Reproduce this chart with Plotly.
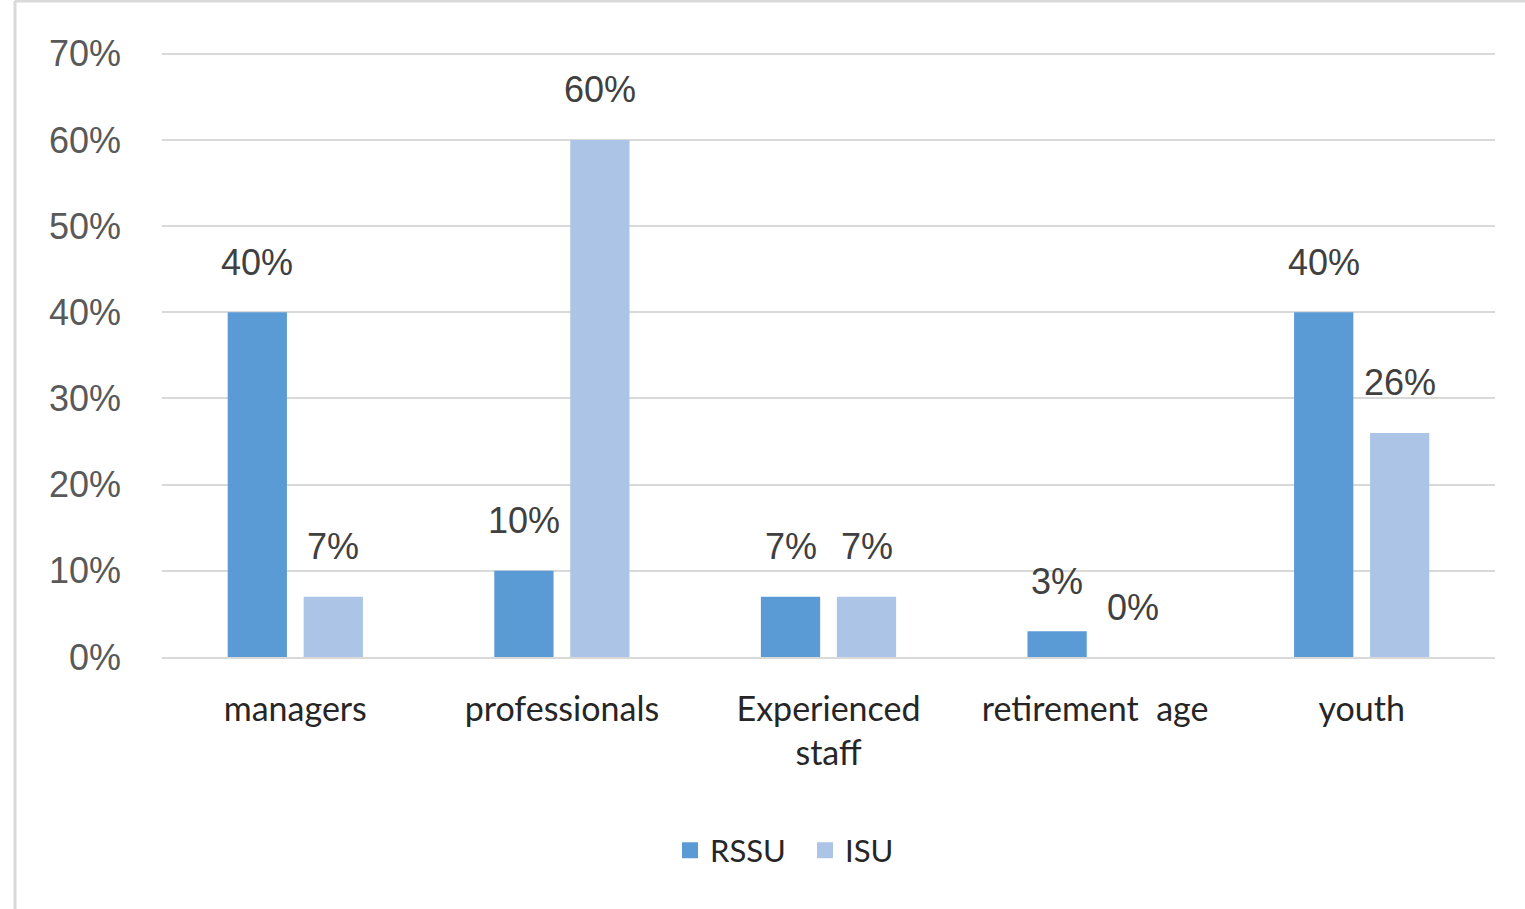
import plotly.graph_objects as go

categories = ["managers", "professionals", "Experienced<br>staff", "retirement  age", "youth"]
rssu = [0.40, 0.10, 0.07, 0.03, 0.40]
isu = [0.07, 0.60, 0.07, 0.00, 0.26]
series_names = ["RSSU", "ISU"]
colors = ["#5B9BD5", "#ACC5E6"]

W, H = 1525, 909
L, R, T, B = 162, 30, 52, 252

fig = go.Figure()
for name, vals, col in zip(series_names, [rssu, isu], colors):
    fig.add_trace(go.Bar(x=categories, y=vals, name=name, marker_color=col,
                         marker_line_width=0, showlegend=False))
    # bigger square legend keys than the default bar swatch
    fig.add_trace(go.Scatter(x=[None], y=[None], mode="markers", name=name,
                             marker=dict(symbol="square", size=22, color=col)))

# data labels sit well above the bar tops, as in the original
slot_shift = 38
for vals, dx in zip([rssu, isu], [-slot_shift, slot_shift]):
    for c, v in zip(categories, vals):
        fig.add_annotation(x=c, y=v, text=f"{v:.0%}", showarrow=False,
                           xshift=dx, yshift=50, yanchor="middle",
                           font=dict(family="Liberation Sans", size=36, color="#404040"))

plot_w = W - L - R
plot_h = H - T - B
frame = dict(color="#D9D9D9", width=3)
fig.add_shape(type="line", xref="paper", yref="paper", line=frame,
              x0=(15 - L) / plot_w, x1=(15 - L) / plot_w,
              y0=(H - B - H) / plot_h, y1=(H - B - 1) / plot_h)
fig.add_shape(type="line", xref="paper", yref="paper", line=frame,
              x0=(15 - L) / plot_w, x1=(W - L) / plot_w,
              y0=(H - B - 1) / plot_h, y1=(H - B - 1) / plot_h)

fig.update_layout(
    width=W, height=H,
    margin=dict(l=L, r=R, t=T, b=B),
    paper_bgcolor="white", plot_bgcolor="white",
    barmode="group", bargap=0.43, bargroupgap=0.22,
    font=dict(family="Lato", size=33, color="#262626"),
    legend=dict(orientation="h", x=(670 - L) / plot_w, xanchor="left", y=-0.32, yanchor="middle",
                font=dict(family="Lato", size=31, color="#262626"),
                itemwidth=30, entrywidth=90, traceorder="normal"),
    showlegend=True,
)
fig.update_yaxes(range=[0, 0.702], tickvals=[0, 0.1, 0.2, 0.3, 0.4, 0.5, 0.6, 0.7],
                 tickformat=".0%",
                 showgrid=True, gridcolor="#D9D9D9", gridwidth=2,
                 zeroline=False, showline=False, ticks="",
                 ticklabelstandoff=40,
                 tickfont=dict(family="Liberation Sans", size=36, color="#595959"))
fig.update_xaxes(showline=True, linecolor="#D9D9D9", linewidth=2, ticks="",
                 ticklabelstandoff=21,
                 tickfont=dict(family="Lato", size=34, color="#262626"))

fig.write_html("out.html", config={"displayModeBar": False},
               post_script="document.body.style.margin='0';")
